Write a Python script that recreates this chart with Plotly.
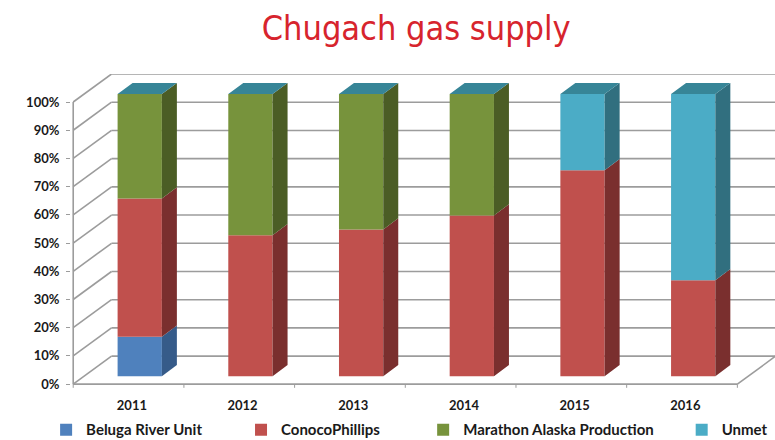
import plotly.graph_objects as go

# ---------------- data ----------------
years = ["2011", "2012", "2013", "2014", "2015", "2016"]
series_names = ["Beluga River Unit", "ConocoPhillips", "Marathon Alaska Production", "Unmet"]
beluga = [14, 0, 0, 0, 0, 0]
conoco = [49, 50, 52, 57, 73, 34]
marathon = [37, 50, 48, 43, 0, 0]
unmet = [0, 0, 0, 0, 27, 66]
y_ticks = [0, 10, 20, 30, 40, 50, 60, 70, 80, 90, 100]

# ---------------- style ----------------
front_colors = ["#4f81bd", "#c0504d", "#77933c", "#4bacc6"]
side_colors = ["#365b89", "#7a2f2e", "#4b5d25", "#316f7f"]
top_color = "#378597"
grid_color = "#9c9c9c"
FONT = "Lato, 'Open Sans', sans-serif"
legend_x = [0.0595, 0.311, 0.546, 0.8796]   # left edges of the four legend entries

WALL_DX, WALL_DY = 0.346, 9.93     # depth of the 3D box (x units, % units)
BAR_OX, BAR_OY = 0.101, 2.8        # offset of bar front face from front plane
BAR_W = 0.4
SIDE_DX, SIDE_DY = 0.1355, 3.97    # bar depth
n = len(years)

series = [beluga, conoco, marathon, unmet]
legend_ids = ["legend", "legend2", "legend3", "legend4"]

fig = go.Figure()

# front faces (bars)
cum = [0.0] * n
bases = []
for vals in series:
    bases.append(list(cum))
    cum = [c + v for c, v in zip(cum, vals)]

for s, vals in enumerate(series):
    fig.add_trace(go.Bar(
        x=[i + 0.5 + BAR_OX for i in range(n)],
        y=vals,
        base=[b + BAR_OY for b in bases[s]],
        width=BAR_W,
        name=series_names[s],
        legend=legend_ids[s],
        marker=dict(color=front_colors[s], line=dict(width=0)),
        hoverinfo="skip",
    ))

# side faces
for s, vals in enumerate(series):
    xs, ys = [], []
    for i in range(n):
        if vals[i] <= 0:
            continue
        r = i + 0.5 + BAR_OX + BAR_W / 2
        b = bases[s][i] + BAR_OY
        t = b + vals[i]
        xs += [r, r + SIDE_DX, r + SIDE_DX, r, r, None]
        ys += [b, b + SIDE_DY, t + SIDE_DY, t, b, None]
    fig.add_trace(go.Scatter(x=xs, y=ys, mode="lines", fill="toself",
                             fillcolor=side_colors[s], line=dict(width=0),
                             showlegend=False, hoverinfo="skip"))

# top faces
xs, ys = [], []
for i in range(n):
    l = i + 0.5 + BAR_OX - BAR_W / 2
    r = l + BAR_W
    t = cum[i] + BAR_OY
    xs += [l, r, r + SIDE_DX, l + SIDE_DX, l, None]
    ys += [t, t, t + SIDE_DY, t + SIDE_DY, t, None]
fig.add_trace(go.Scatter(x=xs, y=ys, mode="lines", fill="toself",
                         fillcolor=top_color, line=dict(width=0),
                         showlegend=False, hoverinfo="skip"))

# ---------------- box / grid ----------------
shapes = []
ln = dict(color=grid_color, width=1.6)
for t in y_ticks:
    shapes.append(dict(type="line", xref="x", yref="y", layer="below",
                       x0=WALL_DX, y0=t + WALL_DY, x1=n + WALL_DX, y1=t + WALL_DY, line=ln))
    shapes.append(dict(type="line", xref="x", yref="y", layer="below",
                       x0=0, y0=t, x1=WALL_DX, y1=t + WALL_DY, line=ln))
shapes.append(dict(type="line", xref="x", yref="y", layer="below",
                   x0=0, y0=0, x1=0, y1=y_ticks[-1], line=ln))
shapes.append(dict(type="line", xref="x", yref="y", layer="below",
                   x0=0, y0=0, x1=n, y1=0, line=ln))
shapes.append(dict(type="line", xref="x", yref="y", layer="below",
                   x0=n, y0=0, x1=n + WALL_DX, y1=WALL_DY, line=ln))
for k in range(n + 1):
    shapes.append(dict(type="line", xref="x", yref="y", layer="below",
                       x0=k, y0=0, x1=k, y1=-1.3, line=dict(color=grid_color, width=1)))

legend_style = dict(orientation="h", xref="container", yref="container",
                    xanchor="left", y=0.023, yanchor="middle",
                    font=dict(family=FONT, size=15, color="#1a1a1a", weight="bold"),
                    itemwidth=30, bgcolor="rgba(0,0,0,0)")

fig.update_layout(
    width=775, height=440,
    margin=dict(l=71, r=0, t=74, b=49),
    paper_bgcolor="white", plot_bgcolor="white",
    barmode="overlay",
    shapes=shapes,
    title=dict(text="Chugach gas supply", x=0.537, xref="container", xanchor="center",
               y=0.937, yref="container", yanchor="middle",
               font=dict(family="'DejaVu Sans Condensed', sans-serif",
                         size=34, color="#d7242d")),
    legend=dict(legend_style, x=legend_x[0]),
    legend2=dict(legend_style, x=legend_x[1]),
    legend3=dict(legend_style, x=legend_x[2]),
    legend4=dict(legend_style, x=legend_x[3]),
    xaxis=dict(range=[-0.02, 6.34], showgrid=False, zeroline=False, showline=False,
               tickmode="array", tickvals=[i + 0.53 for i in range(n)], ticktext=years,
               ticks="", ticklabelstandoff=8,
               tickfont=dict(family=FONT, size=13, color="#1a1a1a", weight="bold"),
               fixedrange=True),
    yaxis=dict(range=[-1.5, 100 + WALL_DY], showgrid=False, zeroline=False, showline=False,
               tickmode="array", tickvals=y_ticks, ticktext=[f"{t}%" for t in y_ticks],
               ticks="outside", ticklen=4, tickcolor=grid_color, ticklabelstandoff=4,
               tickfont=dict(family=FONT, size=13, color="#1a1a1a", weight="bold"),
               fixedrange=True),
)

fig.write_html("out.html", post_script="document.body.style.margin='0px';",
               config={"displayModeBar": False})
